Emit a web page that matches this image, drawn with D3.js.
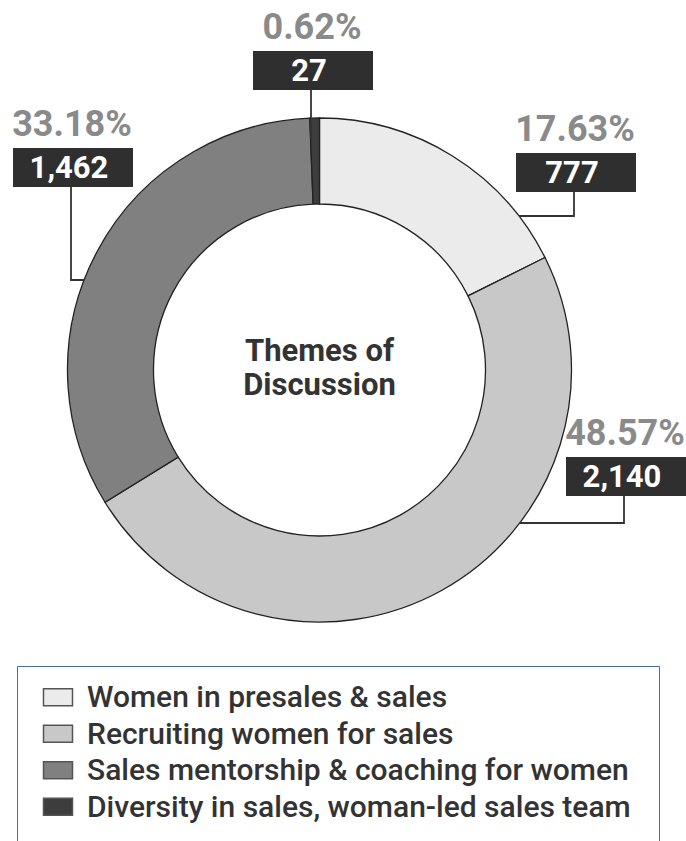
<!DOCTYPE html>
<html>
<head>
<meta charset="utf-8">
<script src="https://cdn.jsdelivr.net/npm/d3@7"></script>
<style>
  body { margin: 0; background: #fff; }
  svg { display: block; font-family: Roboto, "Noto Sans", sans-serif; }
</style>
</head>
<body>
<div id="chart"></div>
<script>
// data
var themes = [
  "Women in presales & sales",
  "Recruiting women for sales",
  "Sales mentorship & coaching for women",
  "Diversity in sales, woman-led sales team"
];
var counts = [777, 2140, 1462, 27];
var percents = ["17.63%", "48.57%", "33.18%", "0.62%"];
var colors = ["#ebebeb", "#c8c8c8", "#808080", "#3d3d3d"];

// where each callout sits (box top-left and elbow of the leader)
var callouts = [
  {bx: 516, by: 153, elbow: 216},
  {bx: 566, by: 457, elbow: 523},
  {bx: 13,  by: 148, elbow: 280},
  {bx: 253, by: 51,  elbow: null}
];

var width = 686, height = 841;
var cx = 319.5, cy = 370, outerR = 252, innerR = 166;
var boxW = 120, boxH = 39;

var svg = d3.select("#chart").append("svg")
    .attr("width", width)
    .attr("height", height);

var pie = d3.pie().sort(null).value(function(d){ return d; });
var arc = d3.arc().innerRadius(innerR).outerRadius(outerR);
var arcs = pie(counts);

var g = svg.append("g").attr("transform", "translate(" + cx + "," + cy + ")");

g.selectAll("path")
  .data(arcs)
  .enter()
  .append("path")
  .attr("d", arc)
  .attr("fill", function(d, i){ return colors[i]; })
  .attr("stroke", "#222")
  .attr("stroke-width", 1.3);

// center title
g.append("text")
  .attr("text-anchor", "middle")
  .attr("y", -9)
  .attr("font-size", 31)
  .attr("font-weight", 700)
  .attr("fill", "#333")
  .text("Themes of");
g.append("text")
  .attr("text-anchor", "middle")
  .attr("y", 25)
  .attr("font-size", 31)
  .attr("font-weight", 700)
  .attr("fill", "#333")
  .text("Discussion");

// callouts
var fmt = d3.format(",");
var labels = svg.append("g");

callouts.forEach(function(c, i){
  var midX = c.bx + boxW / 2;
  var lineX = midX - 2;
  var pts;
  if (c.elbow === null) {
    // straight down into the slice
    var a = (arcs[i].startAngle + arcs[i].endAngle) / 2;
    var tipY = cy - Math.cos(a) * (outerR - 20);
    pts = [[lineX, c.by + boxH], [lineX, tipY]];
  } else {
    var dy = c.elbow - cy;
    var dx = Math.sqrt(outerR * outerR - dy * dy);
    var edgeX = lineX < cx ? cx - dx : cx + dx;
    pts = [[lineX, c.by + boxH], [lineX, c.elbow], [edgeX, c.elbow]];
  }
  labels.append("path")
    .attr("d", d3.line()(pts))
    .attr("fill", "none")
    .attr("stroke", "#333")
    .attr("stroke-width", 1.8);

  labels.append("text")
    .attr("x", midX - 1)
    .attr("y", c.by - 12)
    .attr("text-anchor", "middle")
    .attr("font-size", 36)
    .attr("font-weight", 700)
    .attr("fill", "#8a8a8a")
    .text(percents[i]);

  labels.append("rect")
    .attr("x", c.bx)
    .attr("y", c.by)
    .attr("width", boxW)
    .attr("height", boxH)
    .attr("fill", "#2f2f2f");

  labels.append("text")
    .attr("x", midX - 4)
    .attr("y", c.by + 30)
    .attr("text-anchor", "middle")
    .attr("font-size", 31)
    .attr("font-weight", 700)
    .attr("fill", "#fff")
    .text(fmt(counts[i]));
});

// legend
var legend = svg.append("g");
legend.append("path")
  .attr("d", "M17.5," + (height + 2) + "V666.5H659.5V" + (height + 2))
  .attr("fill", "none")
  .attr("stroke", "#3f6fb5")
  .attr("stroke-width", 1);

var ly = d3.scaleBand().domain(d3.range(themes.length)).range([679, 825]);

var rows = legend.selectAll("g.row")
  .data(themes)
  .enter()
  .append("g")
  .attr("class", "row")
  .attr("transform", function(d, i){ return "translate(0," + (ly(i) + ly.bandwidth() / 2) + ")"; });

rows.append("rect")
  .attr("x", 43.5)
  .attr("y", -8.5)
  .attr("width", 29)
  .attr("height", 17)
  .attr("fill", function(d, i){ return colors[i]; })
  .attr("stroke", "#555")
  .attr("stroke-width", 1.5);

rows.append("text")
  .attr("x", 87)
  .attr("y", 10)
  .attr("font-size", 30)
  .attr("font-weight", 500)
  .attr("fill", "#333")
  .text(function(d){ return d; });
</script>
</body>
</html>
